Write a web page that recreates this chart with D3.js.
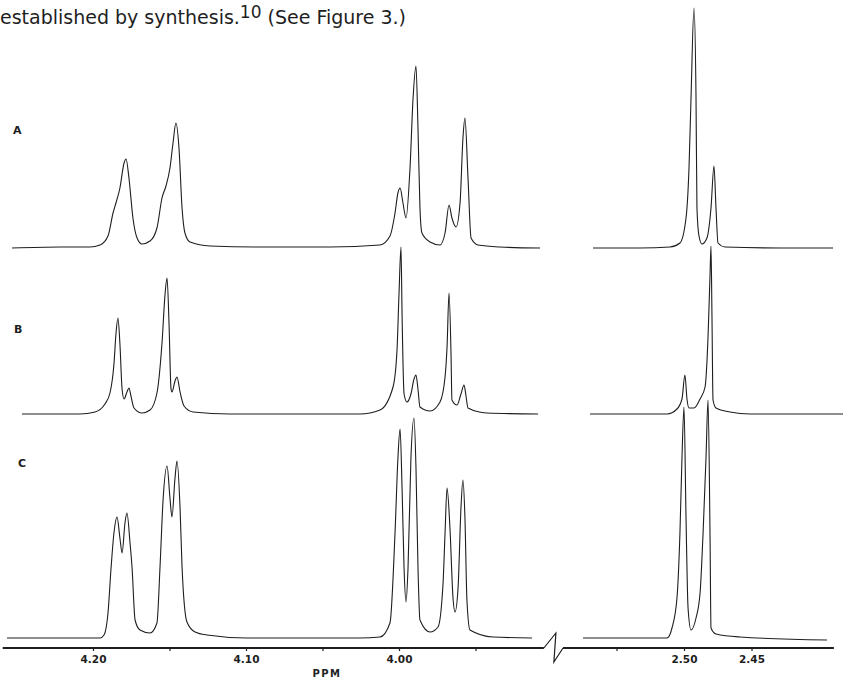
<!DOCTYPE html>
<html>
<head>
<meta charset="utf-8">
<script src="https://cdn.jsdelivr.net/npm/d3@7"></script>
<style>
  body { margin: 0; background: #fff; }
  svg { display: block; }
</style>
</head>
<body>
<svg id="fig" width="843" height="678"></svg>
<script>
// spectra, [ppm, intensity]
var specA_low = [
  [4.2529,0],[4.2216,1],[4.2020,1],[4.1954,3],[4.1902,12],[4.1869,35],[4.1850,45],[4.1824,60],
  [4.1797,85],[4.1784,89],[4.1765,70],[4.1739,30],[4.1712,10],[4.1680,4],[4.1627,7],[4.1582,20],
  [4.1549,50],[4.1523,62],[4.1497,80],[4.1477,105],[4.1458,125],[4.1438,100],[4.1418,40],[4.1399,15],
  [4.1366,6],[4.1235,2],[4.0908,1],[4.0451,1],[4.0124,3],[4.0059,12],[4.0026,35],[4.0007,55],
  [3.9993,60],[3.9974,45],[3.9954,30],[3.9928,80],[3.9908,150],[3.9889,182],[3.9876,120],[3.9863,40],
  [3.9850,15],[3.9797,6],[3.9732,3],[3.9699,15],[3.9673,43],[3.9654,30],[3.9627,21],[3.9601,45],
  [3.9582,110],[3.9569,130],[3.9549,70],[3.9529,10],[3.9484,3],[3.9340,1],[3.9078,0]
];
var specA_high = [
  [2.5674,0],[2.5326,0],[2.5104,1],[2.5030,5],[2.4985,30],[2.4963,80],[2.4948,150],[2.4926,240],
  [2.4911,150],[2.4904,40],[2.4889,12],[2.4867,4],[2.4830,10],[2.4800,40],[2.4778,82],[2.4763,40],
  [2.4748,5],[2.4696,1],[2.4289,0],[2.3896,0]
];
var specB_low = [
  [4.2464,0],[4.2085,0],[4.1987,2],[4.1922,10],[4.1889,21],[4.1863,50],[4.1850,80],[4.1837,96],
  [4.1824,70],[4.1810,25],[4.1797,15],[4.1778,22],[4.1765,26],[4.1752,18],[4.1732,6],[4.1680,1],
  [4.1627,4],[4.1582,21],[4.1549,71],[4.1529,120],[4.1516,136],[4.1503,90],[4.1490,25],[4.1484,22],
  [4.1464,33],[4.1451,37],[4.1431,22],[4.1405,8],[4.1346,2],[4.1105,0],[4.0255,0],[4.0124,4],
  [4.0039,27],[4.0013,64],[4.0000,120],[3.9987,167],[3.9980,100],[3.9967,20],[3.9948,12],[3.9922,20],
  [3.9902,35],[3.9889,39],[3.9876,25],[3.9863,7],[3.9797,3],[3.9732,12],[3.9699,37],[3.9686,67],
  [3.9673,121],[3.9660,60],[3.9654,14],[3.9621,9],[3.9595,20],[3.9575,29],[3.9562,18],[3.9549,6],
  [3.9425,1],[3.9091,0]
];
var specB_high = [
  [2.5696,0],[2.5126,0],[2.5052,5],[2.5015,15],[2.4993,39],[2.4978,15],[2.4963,6],[2.4926,6],
  [2.4881,15],[2.4844,27],[2.4822,77],[2.4807,140],[2.4800,168],[2.4793,100],[2.4785,14],[2.4763,6],
  [2.4659,2],[2.4511,0],[2.3822,0]
];
var specC_low = [
  [4.2562,0],[4.1954,0],[4.1928,3],[4.1902,25],[4.1882,70],[4.1863,105],[4.1843,121],[4.1824,100],
  [4.1810,85],[4.1791,115],[4.1778,125],[4.1758,95],[4.1745,71],[4.1725,18],[4.1693,8],[4.1627,5],
  [4.1582,15],[4.1562,71],[4.1542,138],[4.1516,172],[4.1497,140],[4.1484,121],[4.1464,160],[4.1451,177],
  [4.1431,130],[4.1418,71],[4.1386,16],[4.1333,6],[4.1255,3],[4.0993,0],[4.0255,0],[4.0124,1],
  [4.0059,15],[4.0026,105],[4.0007,180],[3.9993,209],[3.9980,150],[3.9967,70],[3.9954,36],[3.9941,70],
  [3.9922,180],[3.9902,220],[3.9889,170],[3.9876,71],[3.9863,18],[3.9797,6],[3.9745,11],[3.9712,55],
  [3.9699,105],[3.9686,150],[3.9667,110],[3.9647,40],[3.9634,26],[3.9614,50],[3.9595,130],[3.9582,158],
  [3.9569,120],[3.9556,38],[3.9536,8],[3.9386,1],[3.9131,0]
];
var specC_high = [
  [2.5748,0],[2.5126,0],[2.5089,10],[2.5052,40],[2.5030,105],[2.5015,180],[2.5000,231],[2.4985,120],
  [2.4970,30],[2.4948,8],[2.4911,20],[2.4881,45],[2.4859,104],[2.4837,180],[2.4822,238],[2.4807,100],
  [2.4800,10],[2.4763,4],[2.4585,1],[2.3941,-2]
];

var traceNames = ["A", "B", "C"];
var baselines = [248, 414, 638];
var lowTicks = [4.20, 4.15, 4.10, 4.05, 4.00, 3.95];
var lowLabels = ["4.20", "", "4.10", "", "4.00", ""];
var highTicks = [2.55, 2.50, 2.45];
var highLabels = ["", "2.50", "2.45"];

var svg = d3.select("#fig");
var ink = "#1e1e1e";

// caption fragment at the top
var cap = svg.append("text").attr("x", 0).attr("y", 24)
  .style("font-family", "DejaVu Sans, sans-serif").style("font-size", "19px").attr("fill", ink);
cap.append("tspan").text("established by synthesis.");
cap.append("tspan").attr("dy", -6).style("font-size", "17px").text("10");
cap.append("tspan").attr("dy", 6).text(" (See Figure 3.)");

// two separate ppm ranges (axis is broken)
var xLow = d3.scaleLinear().domain([4.20, 4.00]).range([93, 399]);
var xHigh = d3.scaleLinear().domain([2.50, 2.45]).range([684, 751.5]);

var specs = [[specA_low, specA_high], [specB_low, specB_high], [specC_low, specC_high]];

specs.forEach(function (pair, i) {
  var y = d3.scaleLinear().domain([0, 250]).range([baselines[i], baselines[i] - 250]);
  [xLow, xHigh].forEach(function (x, j) {
    var line = d3.line()
      .x(function (d) { return x(d[0]); })
      .y(function (d) { return y(d[1]); })
      .curve(d3.curveMonotoneX);
    svg.append("path").datum(pair[j])
      .attr("d", line)
      .attr("fill", "none")
      .attr("stroke", ink)
      .attr("stroke-width", 1.1)
      .attr("stroke-linejoin", "round");
  });
});

// trace letters
var letterPos = [[13, 134], [14, 333], [18, 467]];
svg.selectAll(".lbl").data(traceNames).enter().append("text")
  .attr("x", function (d, i) { return letterPos[i][0]; })
  .attr("y", function (d, i) { return letterPos[i][1]; })
  .style("font-family", "DejaVu Sans, sans-serif")
  .style("font-size", "11px").style("font-weight", "bold")
  .attr("fill", ink)
  .text(function (d) { return d; });

// axis
var axisY = 648;
var lowEnd = xLow(3.9053), highStart = xHigh(2.5896);
var axisG = svg.append("g");
axisG.append("line").attr("x1", xLow(4.259)).attr("x2", lowEnd)
  .attr("y1", axisY).attr("y2", axisY).attr("stroke", ink).attr("stroke-width", 1.8);
axisG.append("line").attr("x1", highStart).attr("x2", xHigh(2.389))
  .attr("y1", axisY).attr("y2", axisY).attr("stroke", ink).attr("stroke-width", 1.8);

// break mark
var brk = [[lowEnd, axisY], [lowEnd + 12, axisY - 15], [lowEnd + 10, axisY + 14], [highStart, axisY]];
axisG.append("path").attr("d", d3.line()(brk))
  .attr("fill", "none").attr("stroke", ink).attr("stroke-width", 1.2);

function drawAxis(scale, ticks, labels) {
  var ax = d3.axisBottom(scale).tickValues(ticks).tickSize(3).tickPadding(5)
    .tickFormat(function (d, i) { return labels[i]; });
  var g = svg.append("g").attr("transform", "translate(0," + axisY + ")").call(ax);
  g.select(".domain").remove();
  g.selectAll(".tick line").attr("stroke", ink).attr("stroke-width", 1.2);
  g.selectAll(".tick text").attr("fill", ink)
    .style("font-family", "DejaVu Sans, sans-serif")
    .style("font-size", "10.5px").style("font-weight", "bold");
}
drawAxis(xLow, lowTicks, lowLabels);
drawAxis(xHigh, highTicks, highLabels);

svg.append("text").attr("x", 327).attr("y", 677).attr("text-anchor", "middle")
  .style("font-family", "DejaVu Sans, sans-serif").style("font-size", "10px")
  .style("font-weight", "bold").style("letter-spacing", "1.5px")
  .attr("fill", ink).text("PPM");
</script>
</body>
</html>
